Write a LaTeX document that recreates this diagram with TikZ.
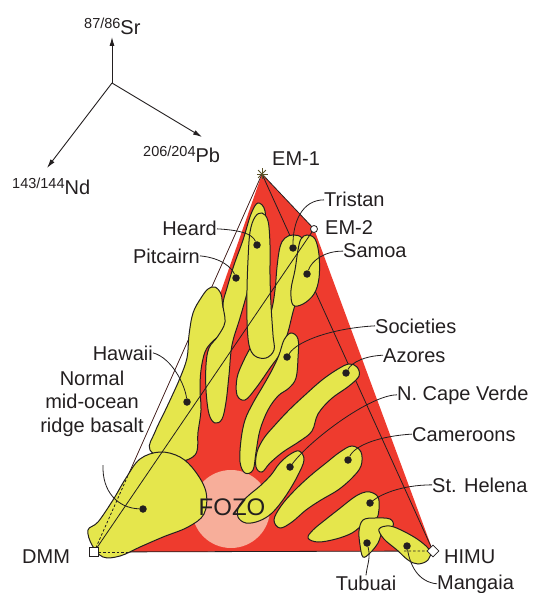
\documentclass[tikz,border=0pt]{standalone}
\usepackage{fontspec}
\setmainfont{Liberation Sans}
\usetikzlibrary{arrows.meta,calc,shapes.geometric}
\definecolor{mantlered}{RGB}{238,59,46}
\definecolor{plumeyellow}{RGB}{229,230,76}
\definecolor{fozopink}{RGB}{247,174,154}
\definecolor{ink}{RGB}{35,31,32}
\definecolor{edgebrown}{RGB}{72,36,34}
\definecolor{starolive}{RGB}{92,82,40}
\newcommand{\isorat}[2]{\raisebox{6.5pt}{\fontsize{14.5}{16}\selectfont #1}#2}

\begin{document}
\begin{tikzpicture}[x=1pt, y=-1pt]
        \tikzset{
            lbl/.style={text=ink, inner sep=0pt, font=\fontsize{20}{23.5}\selectfont},
            plume/.style={fill=plumeyellow, draw=ink, line width=1pt},
            dot/.style={circle, fill=ink, inner sep=0pt, minimum size=7.5pt},
            leader/.style={draw=ink, line width=0.8pt},
            edge/.style={draw=ink, line width=0.8pt},
            dashedge/.style={draw=ink, line width=0.8pt, dash pattern=on 2.5pt off 2pt},
            endmark/.style={draw=ink, fill=white, line width=0.8pt, inner sep=0pt},
            axis/.style={draw=ink, line width=0.9pt, -{Latex[length=9pt,width=5pt]}},
        }
        \useasboundingbox (0,0) rectangle (534,593);
        % Corners of the tetrahedron:
        \coordinate (em1) at (262,174);
        \coordinate (em2) at (314,229);
        \coordinate (dmm) at (94,552);
        \coordinate (himu) at (433,551);
        \coordinate (redcorner) at (130,552);
        \fill[mantlered] (em1) -- (em2) -- (himu) -- (redcorner) -- cycle;
        \fill[fozopink] (231,509) circle (39pt);
        \draw[edgebrown, line width=0.8pt] (dmm) -- (em1);
        \draw[edge] (em1) -- (himu);
        \draw[edge] (em1) -- (em2);
        \draw[edge] (dmm) -- (himu);
        % Plumes:
        \path[plume] plot[smooth cycle, tension=0.6] coordinates {(215,287) (221,294) (223,307) (227,320) (223,332) (212,342) (205,352) (201,370) (200,390) (201,410) (198,432) (195,455) (172,462) (150,450) (155,432) (164,413) (172,396) (180,378) (187,358) (189,335) (193,313) (201,298) (208,289)};
        \path[plume] plot[smooth cycle, tension=0.6] coordinates {(88,530) (98,522) (113,500) (126,478) (140,459) (160,452) (180,457) (195,471) (206,492) (204,514) (188,527) (163,537) (140,547) (120,556) (103,557) (92,545)};
        \path[plume] plot[smooth cycle, tension=0.6] coordinates {(258,203) (265,211) (264,235) (256,262) (248,290) (240,318) (232,345) (229,375) (226,402) (222,419) (215,423) (209,414) (206,390) (206,365) (209,348) (218,336) (225,322) (223,304) (227,288) (234,265) (243,240) (251,214)};
        \path[plume] plot[smooth cycle, tension=0.6] coordinates {(293,235) (302,238) (307,252) (305,272) (299,292) (293,312) (288,332) (281,352) (270,368) (256,388) (245,400) (237,395) (237,378) (243,362) (252,345) (262,330) (271,312) (275,290) (277,267) (280,247) (285,238)};
        \path[plume] plot[smooth cycle, tension=0.6] coordinates {(262,213) (268,221) (270,245) (270,275) (271,305) (273,335) (274,350) (266,358) (255,356) (249,345) (247,320) (247,290) (248,260) (250,232) (255,217)};
        \path[plume] plot[smooth cycle, tension=0.6] coordinates {(307,235) (315,239) (319,255) (319,278) (314,294) (303,304) (293,305) (291,290) (295,270) (298,250) (301,239)};
        \path[plume] plot[smooth cycle, tension=0.6] coordinates {(291,333) (298,339) (298,358) (296,378) (289,388) (278,396) (268,410) (260,430) (256,452) (253,470) (245,473) (240,462) (241,440) (245,420) (253,403) (263,386) (272,370) (279,355) (284,340)};
        \path[plume] plot[smooth cycle, tension=0.6] coordinates {(349,364) (357,367) (359,376) (349,386) (331,399) (318,414) (312,431) (300,441) (283,452) (270,463) (262,472) (256,467) (257,452) (264,438) (275,425) (289,410) (305,395) (322,380) (338,369)};
        \path[plume] plot[smooth cycle, tension=0.6] coordinates {(299,451) (304,460) (297,477) (285,497) (272,513) (259,521) (246,523) (238,517) (239,506) (248,496) (260,486) (271,475) (279,464) (289,455)};
        \path[plume] plot[smooth cycle, tension=0.6] coordinates {(352,446) (361,452) (361,466) (352,478) (338,490) (321,500) (306,510) (292,522) (280,528) (274,520) (281,506) (294,491) (310,476) (326,463) (340,452)};
        \path[plume] plot[smooth cycle, tension=0.6] coordinates {(370,492) (378,497) (379,509) (376,519) (364,524) (352,533) (336,539) (318,542) (308,538) (313,530) (325,520) (339,509) (353,498) (362,493)};
        \path[plume] plot[smooth cycle, tension=0.6] coordinates {(363,520) (375,518) (390,519) (393,526) (383,531) (378,543) (370,553) (363,557) (360,545) (359,531)};
        \path[plume] plot[smooth cycle, tension=0.6] coordinates {(379,529) (390,526) (405,532) (420,541) (430,551) (428,560) (418,564) (408,560) (397,550) (384,539)};
        \draw[edge] (dmm) -- (em2);
        \draw[dashedge] (dmm) -- ($(dmm)!0.2!(em1)$);
        \draw[dashedge] (dmm) -- (redcorner);
        \draw[dashedge] ($(dmm)!0.915!(himu)$) -- (himu);
        \node[lbl, font=\fontsize{24}{28}\selectfont, anchor=base] (fozo) at (232,515) {FOZO};
        % End-member marks and labels:
        \node[endmark, rectangle, minimum size=8.5pt] (dmmmark) at (dmm) {};
        \node[endmark, diamond, minimum size=12pt] (himumark) at (himu) {};
        \node[endmark, circle, minimum size=7pt] (em2mark) at (em2) {};
        \foreach \a in {0,45,90,135}
            \draw[starolive, line width=0.9pt] ($(em1)+(\a:5.5)$) -- ($(em1)+(\a+180:5.5)$);
        \node[lbl, anchor=base west] (em1lbl) at (272,166) {EM-1};
        \node[lbl, anchor=base west] (em2lbl) at (325,234) {EM-2};
        \node[lbl, anchor=base west] (dmmlbl) at (22,563) {DMM};
        \node[lbl, anchor=base west] (himulbl) at (444,563) {HIMU};
        % Dots, names and leaders:
        \node[dot] (dtristan) at (293,248) {};
        \node[dot] (dsamoa) at (307,274) {};
        \node[dot] (dheard) at (257,245) {};
        \node[dot] (dpitcairn) at (236,278) {};
        \node[dot] (dhawaii) at (187,402) {};
        \node[dot] (dmorb) at (143,509) {};
        \node[dot] (dsocieties) at (287,357) {};
        \node[dot] (dazores) at (346,373) {};
        \node[dot] (dcapeverde) at (290,467) {};
        \node[dot] (dcameroons) at (348,460) {};
        \node[dot] (dsthelena) at (370,503) {};
        \node[dot] (dtubuai) at (367,543) {};
        \node[dot] (dmangaia) at (407,546) {};
        \node[lbl, anchor=base west] (tristan) at (324,207) {Tristan};
        \node[lbl, anchor=base west] (samoa) at (343,258) {Samoa};
        \node[lbl, anchor=base east] (heard) at (217,236) {Heard};
        \node[lbl, anchor=base east] (pitcairn) at (200,263) {Pitcairn};
        \node[lbl, anchor=base east] (hawaii) at (153,360) {Hawaii};
        \node[lbl, align=center, anchor=base] (morb) at (92,432) {Normal\\mid-ocean\\ridge basalt};
        \node[lbl, anchor=base west] (societies) at (375,333) {Societies};
        \node[lbl, anchor=base west] (azores) at (383,362) {Azores};
        \node[lbl, anchor=base west] (capeverde) at (397,400) {N. Cape Verde};
        \node[lbl, anchor=base west] (cameroons) at (412,441) {Cameroons};
        \node[lbl, anchor=base west] (sthelena) at (432,492) {St. Helena};
        \node[lbl, anchor=base] (tubuai) at (366,590) {Tubuai};
        \node[lbl, anchor=base west] (mangaia) at (437,589) {Mangaia};
        \coordinate (morbend) at (103,465);
        \draw[leader] (tristan.west) .. controls (302,200) and (293,222) .. (dtristan);
        \draw[leader] (samoa.west) .. controls (325,251) and (312,260) .. (dsamoa);
        \draw[leader] (heard.east) .. controls (238,230) and (252,233) .. (dheard);
        \draw[leader] (pitcairn.east) .. controls (222,258) and (232,268) .. (dpitcairn);
        \draw[leader] (hawaii.east) .. controls (172,358) and (185,385) .. (dhawaii);
        \draw[leader] (morbend) .. controls (102,492) and (118,508) .. (dmorb);
        \draw[leader] (societies.west) .. controls (335,328) and (298,340) .. (dsocieties);
        \draw[leader] (azores.west) .. controls (365,356) and (352,362) .. (dazores);
        \draw[leader] (capeverde.west) .. controls (370,395) and (310,440) .. (dcapeverde);
        \draw[leader] (cameroons.west) .. controls (380,436) and (355,445) .. (dcameroons);
        \draw[leader] (sthelena.west) .. controls (400,485) and (380,495) .. (dsthelena);
        \draw[leader] (dtubuai) .. controls (371,558) and (367,565) .. (tubuai.north);
        \draw[leader] (dmangaia) .. controls (410,565) and (418,582) .. (mangaia.west);
        % Isotope axes:
        \coordinate (orig) at (112,83);
        \coordinate (srtip) at (112,37);
        \coordinate (pbtip) at (202,137);
        \coordinate (ndtip) at (47,168);
        \draw[axis] (orig) -- (srtip);
        \draw[axis] (orig) -- (pbtip);
        \draw[axis] (orig) -- (ndtip);
        \node[lbl, anchor=base west] (srlbl) at (84,35) {\isorat{87/86}{Sr}};
        \node[lbl, anchor=base west] (pblbl) at (143,163) {\isorat{206/204}{Pb}};
        \node[lbl, anchor=base west] (ndlbl) at (12,195) {\isorat{143/144}{Nd}};
\end{tikzpicture}
\end{document}
